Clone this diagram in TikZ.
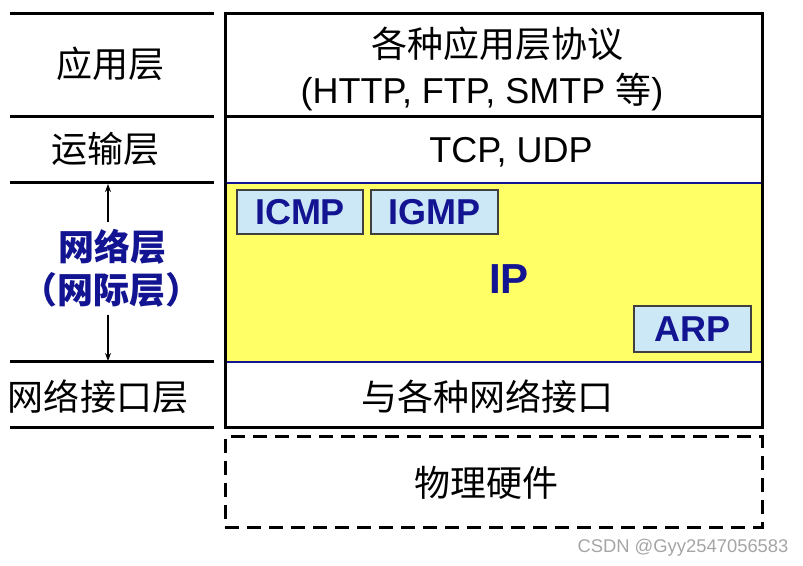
\documentclass[tikz,border=0pt]{standalone}
\usepackage{fontspec}
\setmainfont{Liberation Sans}
\newfontfamily\cjk{Noto Sans CJK SC}
\usetikzlibrary{arrows.meta}

\begin{document}
\begin{tikzpicture}[x=0.5pt, y=-0.5pt]

		\def\W{268.5pt} % Width of the protocol stack

		\def\X{493.5} % Horizontal centre of the stack

		% Define colors

		\definecolor{ipYellow}{RGB}{255,255,102}

		\definecolor{protoBlue}{RGB}{204,232,246}

		\definecolor{netNavy}{RGB}{18,20,145}

		\definecolor{markGray}{RGB}{165,165,165}

		% Define font sizes

		\newcommand{\layerfont}{\fontsize{18}{24}\selectfont}

		\newcommand{\ipfont}{\fontsize{21}{25}\selectfont}

		\newcommand{\markfont}{\fontsize{9.2}{11}\selectfont}

		\tikzset{
			layerbox/.style={minimum width=\W, inner sep=0pt, outer sep=0pt},
			protobox/.style={draw=black!75, fill=protoBlue, line width=0.75pt, inner sep=0pt, minimum height=22pt, text=netNavy, font=\layerfont\bfseries},
			rail/.style={line width=1.5pt},
			pointer/.style={line width=0.7pt, -{Stealth[length=4pt, width=3pt]}}
		}

		\useasboundingbox (0,0) rectangle (803,566);

		% Draw the layer boxes of the stack

		\node[layerbox, minimum height=51.5pt] (app) at (\X,65.5) {};

		\node[layerbox, minimum height=33pt] (trans) at (\X,150) {};

		\node[layerbox, fill=ipYellow, minimum height=89.5pt] (net) at (\X,272.5) {};

		\node[layerbox, minimum height=33pt] (link) at (\X,395) {};

		\node[layerbox, draw, dashed, dash pattern=on 7pt off 4pt, line width=1.5pt, minimum height=45pt] (phys) at (\X,482) {};

		% Draw the separators and the frame

		\draw[rail] (app.south west) -- (app.south east);

		\draw[netNavy, line width=1pt] (net.north west) -- (net.north east);

		\draw[netNavy, line width=1pt] (net.south west) -- (net.south east);

		\draw[rail] (app.north west) rectangle (link.south east);

		% Draw the rails of the layer names

		\foreach \y in {14,117,183,362,428}
			\draw[rail] (10,\y) -- (214,\y);

		\coordinate (netTop) at (108,184);

		\coordinate (netBot) at (108,361);

		% Layer names

		\node[font=\layerfont\cjk] (appName) at (110,64) {应用层};

		\node[font=\layerfont\cjk] (transName) at (105,149) {运输层};

		\node[font=\layerfont\cjk\bfseries, text=netNavy] (netName) at (112,247) {网络层};

		\node[font=\layerfont\cjk\bfseries, text=netNavy] (netAlias) at (111,290) {（网际层）};

		\node[font=\layerfont\cjk] (linkName) at (98,397) {网络接口层};

		\draw[pointer] (netName.north -| netTop) -- (netTop);

		\draw[pointer] (netAlias.south -| netBot) -- (netBot);

		% Protocols in the layers

		\node[font=\layerfont\cjk] (appText) at (497,44) {各种应用层协议};

		\node[font=\layerfont] (appList) at (482,92) {(HTTP, FTP, SMTP {\cjk 等})};

		\node[font=\layerfont] (transText) at (511,152) {TCP, UDP};

		\node[protobox, minimum width=63pt] (icmp) at (300,212) {ICMP};

		\node[protobox, minimum width=63.5pt] (igmp) at (434.5,212) {IGMP};

		\node[protobox, minimum width=58.5pt, minimum height=23pt] (arp) at (692.5,329) {ARP};

		\node[font=\ipfont\bfseries, text=netNavy] (ip) at (509,279) {IP};

		\node[font=\layerfont\cjk] (linkText) at (487,397) {与各种网络接口};

		\node[font=\layerfont\cjk] (physText) at (486,483) {物理硬件};

		% Watermark

		\node[font=\markfont, text=markGray] (mark) at (683,548) {CSDN @Gyy2547056583};

	\end{tikzpicture}
\end{document}
